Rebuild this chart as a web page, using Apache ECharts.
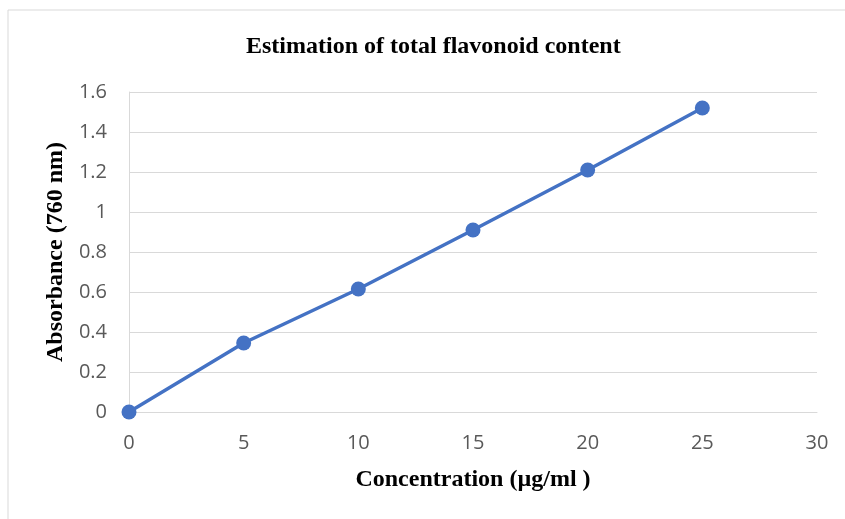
<!DOCTYPE html>
<html><head><meta charset="utf-8">
<script src="https://cdn.jsdelivr.net/npm/echarts@6/dist/echarts.min.js"></script>
<style>html,body{margin:0;padding:0;background:#fff}#c{width:845px;height:519px}</style>
</head><body><div id="c"></div>
<script>
const concentration = [0, 5, 10, 15, 20, 25];
const absorbance = [0, 0.345, 0.615, 0.91, 1.21, 1.52];
const titleText = 'Estimation of total flavonoid content';
const xName = 'Concentration (µg/ml )';
const yName = 'Absorbance (760 nm)';

const chart = echarts.init(document.getElementById('c'), null, {renderer: 'canvas'});
const serif = '"Liberation Serif", "Times New Roman", serif';
const sans = '"Open Sans", "Liberation Sans", sans-serif';
chart.setOption({
  animation: false,
  graphic: [{
    type: 'rect', shape: {x: 8, y: 10, width: 900, height: 600},
    style: {fill: 'none', stroke: '#d9d9d9', lineWidth: 1}, silent: true, z: -1
  }],
  title: {
    text: titleText, left: 241, top: 30,
    textStyle: {fontFamily: serif, fontWeight: 'bold', fontSize: 24, color: '#000'}
  },
  grid: {left: 129, right: 28, top: 92, bottom: 107},
  xAxis: {
    type: 'value', min: 0, max: 30, interval: 5,
    name: xName, nameLocation: 'middle', nameGap: 56,
    nameTextStyle: {fontFamily: serif, fontWeight: 'bold', fontSize: 24, color: '#000'},
    axisLine: {show: true, lineStyle: {color: '#d9d9d9'}},
    axisTick: {show: false},
    splitLine: {show: false},
    axisLabel: {fontFamily: sans, fontSize: 20, color: '#595959', margin: 21}
  },
  yAxis: {
    type: 'value', min: 0, max: 1.6, interval: 0.2,
    name: yName, nameLocation: 'middle', nameGap: 60,
    nameTextStyle: {fontFamily: serif, fontWeight: 'bold', fontSize: 24, color: '#000'},
    axisLine: {show: true, lineStyle: {color: '#d9d9d9'}},
    axisTick: {show: false},
    splitLine: {show: true, lineStyle: {color: '#d9d9d9', width: 1}},
    axisLabel: {fontFamily: sans, fontSize: 20, color: '#595959', margin: 22,
      formatter: v => String(Math.round(v * 10) / 10)}
  },
  series: [{
    type: 'line',
    data: concentration.map((x, i) => [x, absorbance[i]]),
    symbol: 'circle', symbolSize: 15,
    lineStyle: {color: '#4472C4', width: 3.5},
    itemStyle: {color: '#4472C4'}
  }]
});
</script></body></html>
